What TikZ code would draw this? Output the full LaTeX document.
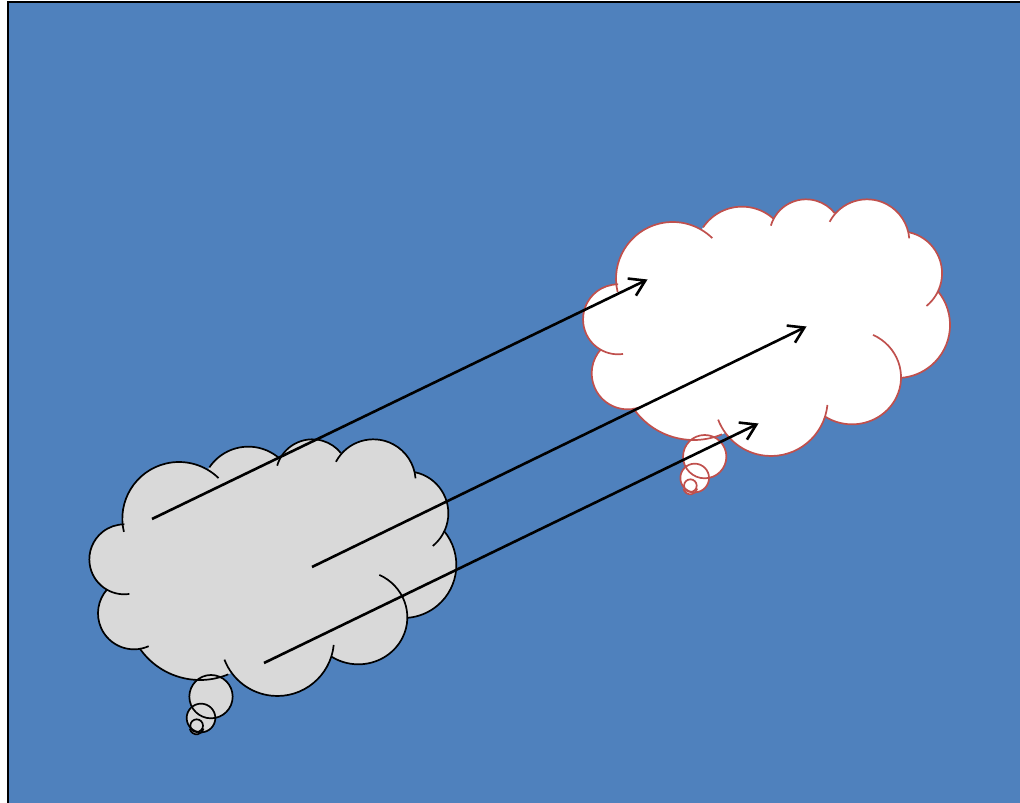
\documentclass[tikz,border=0pt]{standalone}
\usetikzlibrary{arrows.meta}
\definecolor{bluebg}{HTML}{4F81BD}
\definecolor{cloudgray}{HTML}{D9D9D9}
\definecolor{cloudred}{HTML}{C0504D}
% zoom-coordinate helper: bump centre (zx,zy), radii, start/end parameter angles
\newcommand{\bumpfill}[4]{\fill (#1/3,{-(#2)/3}) ellipse [x radius=#3/3, y radius=#4/3];}
\newcommand{\bumpline}[6]{\draw (#1/3,{-(#2)/3}) ++({(#3/3)*cos(#5)},{(#4/3)*sin(#5)}) arc [start angle=#5, end angle=#6, x radius=#3/3, y radius=#4/3];}
\newcommand{\mycloud}[3]{%
\begin{scope}[shift={(#1,#2)}, fill=#3]
\fill (297/3,-266/3) -- (505/3,-191/3) -- (697/3,-138/3) -- (880/3,-155/3) -- (979/3,-250/3) -- (970/3,-405/3) -- (835/3,-562/3) -- (592/3,-628/3) -- (360/3,-530/3) -- (162/3,-550/3) -- (133/3,-388/3) -- cycle;
\bumpfill{297}{266}{170}{170}
\bumpfill{505}{191}{141}{141}
\bumpfill{697}{138}{110}{110}
\bumpfill{880}{155}{127}{127}
\bumpfill{979}{250}{126}{126}
\bumpfill{970}{405}{159}{159}
\bumpfill{835}{562}{147}{141}
\bumpfill{592}{628}{170}{170}
\bumpfill{360}{530}{220}{220}
\bumpfill{162}{550}{108}{108}
\bumpfill{133}{388}{105}{105}
\bumpfill{393}{800}{65}{65}
\bumpfill{363}{864}{43}{43}
\bumpfill{350}{892}{21}{21}
\bumpline{297}{266}{170}{170}{193.5}{45.7}
\bumpline{505}{191}{141}{141}{146}{48}
\bumpline{697}{138}{110}{110}{163.6}{38.5}
\bumpline{880}{155}{127}{127}{152}{4.5}
\bumpline{979}{250}{126}{126}{78}{-51}
\bumpline{970}{405}{159}{159}{40}{-85.6}
\bumpline{835}{562}{147}{141}{64.6}{-123}
\bumpline{592}{628}{170}{170}{-5.7}{-159}
\bumpline{360}{530}{220}{220}{-67.3}{-145.5}
\bumpline{162}{550}{108}{108}{-66}{-222}
\bumpline{133}{388}{105}{105}{-81.8}{-270}
\draw (393/3,-800/3) circle [radius=65/3];
\draw (363/3,-864/3) circle [radius=43/3];
\draw (350/3,-887/3) circle [radius=19/3];
\bumpline{350}{892}{21}{21}{-170}{-10}
\end{scope}}
\tikzset{
  page/.style={fill=bluebg, draw=black, line width=2pt},
  move/.style={draw=black, line width=2.6pt, -{Straight Barb[length=15pt,width=19pt,line width=2.6pt]}},
}
\begin{document}
\begin{tikzpicture}[x=1pt,y=1pt]
\useasboundingbox (0,0) rectangle (1020,803);
\begin{scope}
\clip (0,0) rectangle (1020,803);
\draw[page] (8,-20) rectangle (1040,801);
\end{scope}
\begin{scope}[line width=1.7pt, draw=black]
\mycloud{80}{373}{cloudgray}
\end{scope}
\begin{scope}[line width=1.7pt, draw=cloudred]
\mycloud{573.7}{613}{white}
\end{scope}
\coordinate (g1) at (152,284);
\coordinate (w1) at (647.5,523.5);
\coordinate (g2) at (312,236);
\coordinate (w2) at (806.5,476.5);
\coordinate (g3) at (264,140);
\coordinate (w3) at (758.5,379.5);
\draw[move] (g1) -- (w1);
\draw[move] (g2) -- (w2);
\draw[move] (g3) -- (w3);
\end{tikzpicture}
\end{document}
